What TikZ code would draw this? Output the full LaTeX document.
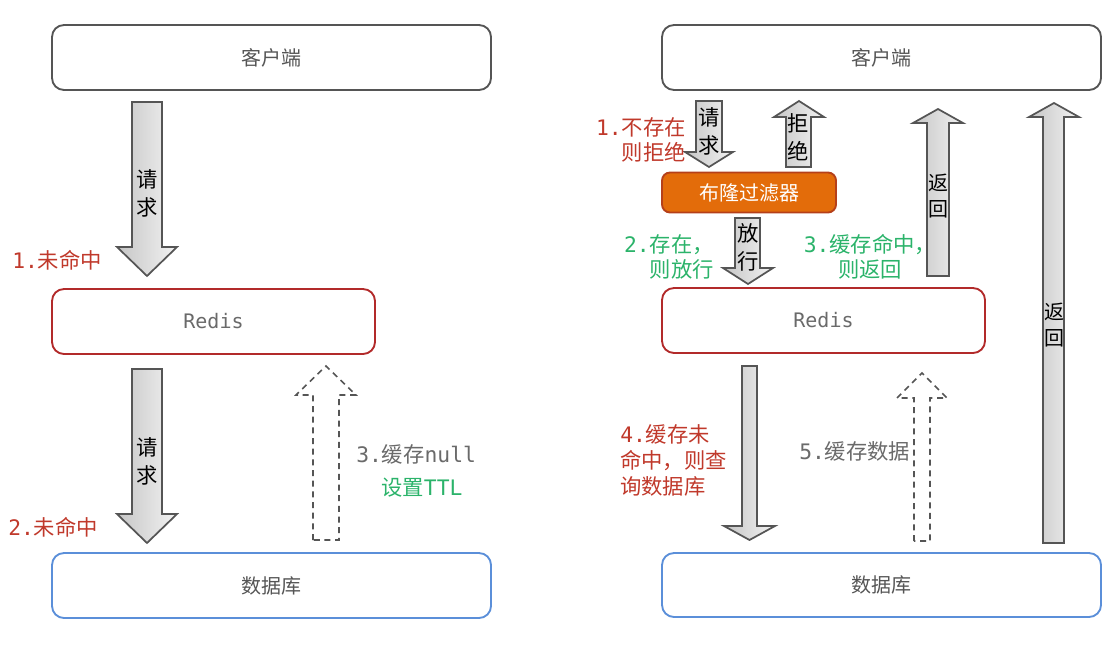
\documentclass[tikz,border=0pt]{standalone}
\usepackage{fontspec}
\setmainfont{Noto Sans CJK SC}
\newfontfamily\monof{DejaVu Sans Mono}
\definecolor{boxgray}{HTML}{555555}
\definecolor{redisred}{HTML}{B22A2A}
\definecolor{dbblue}{HTML}{5B8FD9}
\definecolor{bloomfill}{HTML}{E36C0A}
\definecolor{bloomline}{HTML}{B5401A}
\definecolor{labred}{HTML}{C0392B}
\definecolor{labgreen}{HTML}{2BB36A}
\definecolor{labgray}{HTML}{6A6A6A}
\definecolor{arrline}{HTML}{555555}
\newcommand\blkarr[8][blkfill]{\draw[#1] (#2,#6) -- (#2,#7) -- (#4,#7) -- ({(#4+#5)/2},#8) -- (#5,#7) -- (#3,#7) -- (#3,#6) -- cycle;}
\tikzset{
  box/.style={draw=boxgray, line width=1.4pt, rounded corners=9pt, inner sep=0pt, outer sep=0pt,
    minimum height=48.75pt, text=boxgray, font=\fontsize{15pt}{18pt}\selectfont},
  blkfill/.style={draw=arrline, line width=1.3pt, line join=miter, left color=gray!45, right color=gray!10},
  blkdash/.style={draw=arrline, line width=1.2pt, line join=miter, dash pattern=on 4.5pt off 3.5pt},
  arrtext/.style={inner sep=0pt, align=center, font=\fontsize{16pt}{21pt}\selectfont},
  lab/.style={inner sep=0pt, font=\fontsize{16pt}{19.5pt}\selectfont}
}
\begin{document}
\begin{tikzpicture}[x=0.75pt, y=-0.75pt]
\useasboundingbox (0,0) rectangle (1120,646);

% ---------- left diagram ----------
\node[box, minimum width=329.25pt] (cliL) at (271.5,57.5) {客户端};
\node[box, draw=redisred, minimum width=242.25pt, text=labgray] (redisL) at (213.5,321.5) {\monof Redis};
\node[box, draw=dbblue, minimum width=329.25pt] (dbL) at (271.5,585.5) {数据库};

\blkarr{132}{162}{117}{177}{102}{247}{276}
\node[arrtext] (reqL1) at (147,193) {请\\求};
\blkarr{132}{162}{117}{177}{369}{514}{543}
\node[arrtext] (reqL2) at (147,461) {请\\求};
\blkarr[blkdash]{313}{339}{296}{356}{540}{395}{366}

\node[lab, text=labred, anchor=west] (l1L) at (12,260) {{\monof 1.}未命中};
\node[lab, text=labred, anchor=west] (l2L) at (8,527) {{\monof 2.}未命中};
\node[lab, text=labgray, anchor=west] (l3L) at (356,454) {{\monof 3.}缓存{\monof null}};
\node[lab, text=labgreen, anchor=west] (l3Lb) at (381,488) {设置{\monof TTL}};

% ---------- right diagram ----------
\node[box, minimum width=329.25pt] (cliR) at (881.5,57.5) {客户端};
\node[box, draw=bloomline, fill=bloomfill, rounded corners=6pt, minimum width=130.5pt, minimum height=30pt, text=white] (bloom) at (749,192.5) {布隆过滤器};
\node[box, draw=redisred, minimum width=242.25pt, text=labgray] (redisR) at (823.5,320.5) {\monof Redis};
\node[box, draw=dbblue, minimum width=329.25pt, minimum height=48pt] (dbR) at (881.5,585) {数据库};

\blkarr{696}{722}{685}{733}{101}{152}{167}
\node[arrtext] (reqR) at (709,131) {请\\求};
\blkarr{786}{811}{774}{824}{167}{117}{101}
\node[arrtext] (rejR) at (798,137) {拒\\绝};
\blkarr{735}{760}{723}{773}{218}{268}{284}
\node[arrtext] (passR) at (748,247) {放\\行};
\blkarr{927}{949}{913}{963}{276}{123}{109}
\node[arrtext, font=\fontsize{15pt}{20pt}\selectfont] (retR1) at (938,196) {返\\回};
\blkarr{1043}{1064}{1029}{1079}{543}{117}{103}
\node[arrtext, font=\fontsize{15pt}{20pt}\selectfont] (retR2) at (1054,325) {返\\回};
\blkarr{742}{757}{724}{775}{366}{526}{540}
\blkarr[blkdash]{914}{930}{897}{947}{541}{398}{373}

\node[lab, text=labred, anchor=east, align=right, font=\fontsize{16pt}{19pt}\selectfont] (l1R) at (686,140) {{\monof 1.}不存在\\则拒绝};
\node[lab, text=labgreen, anchor=east, align=right, font=\fontsize{16pt}{19pt}\selectfont] (l2R) at (714,257) {{\monof 2.}存在，\\则放行};
\node[lab, text=labgreen, align=center, font=\fontsize{16pt}{19pt}\selectfont] (l3R) at (870,257) {{\monof 3.}缓存命中，\\则返回};
\node[lab, text=labred, anchor=west, align=left] (l4R) at (620,460) {{\monof 4.}缓存未\\命中，则查\\询数据库};
\node[lab, text=labgray, anchor=west] (l5R) at (799,451) {{\monof 5.}缓存数据};
\end{tikzpicture}
\end{document}
